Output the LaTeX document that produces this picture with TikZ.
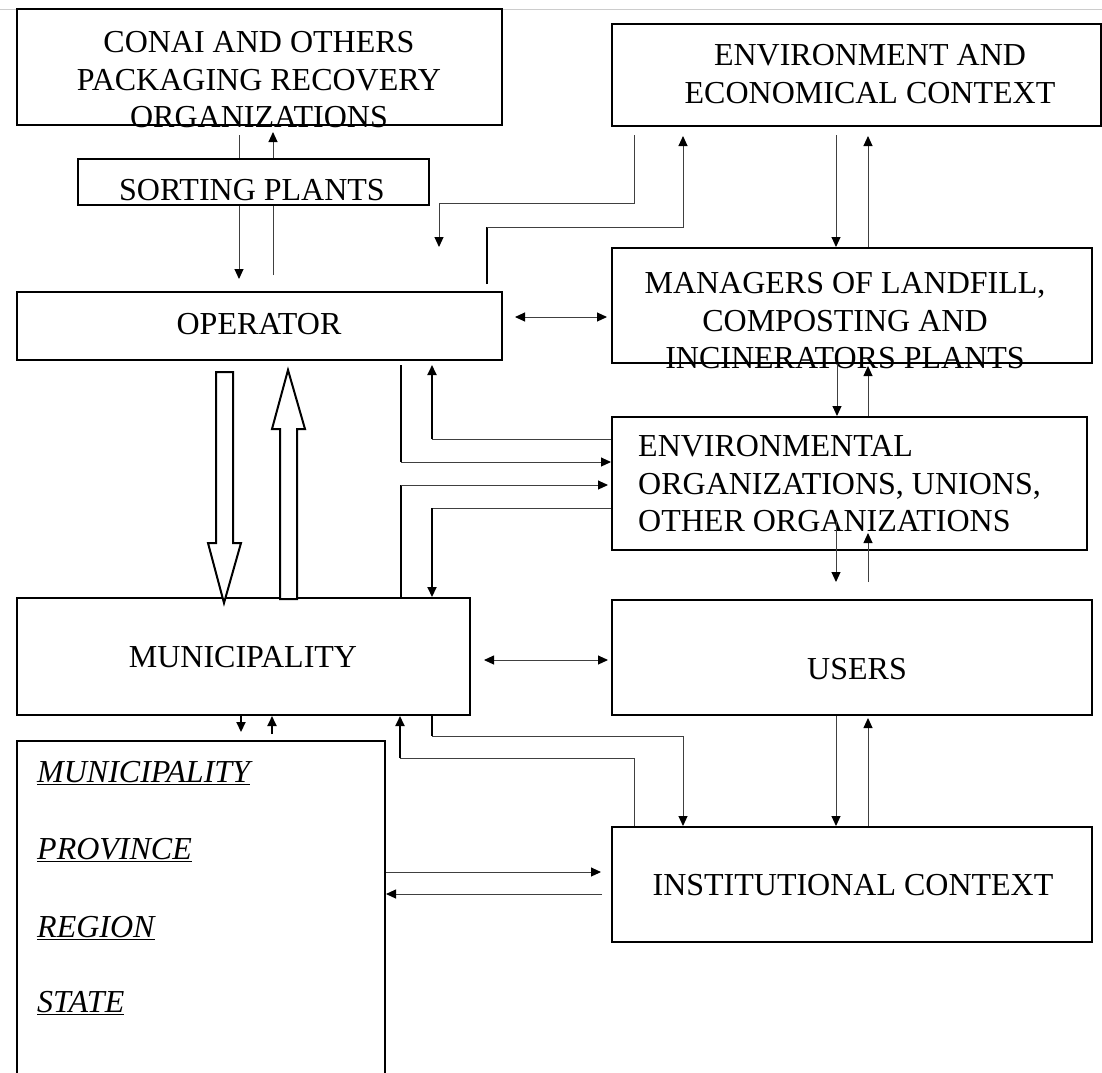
\documentclass[tikz,border=0pt]{standalone}
\usepackage{fontspec}
\setmainfont{Liberation Serif}
\usetikzlibrary{arrows.meta}
\begin{document}
\begin{tikzpicture}[x=1pt,y=-1pt,
  box/.style={draw=black,line width=2pt,fill=white,inner sep=0pt},
  txt/.style={font=\fontsize{32}{37.5}\selectfont,align=center,inner sep=0pt},
  lvl/.style={font=\fontsize{32}{37.5}\selectfont\itshape,inner sep=0pt,anchor=base west},
  thinline/.style={line width=1pt,draw=black!75},
  thickline/.style={line width=2pt,draw=black},
  tip/.style={-{Triangle[length=10pt,width=9pt,color=black]}},
  tips/.style={{Triangle[length=10pt,width=9pt,color=black]}-{Triangle[length=10pt,width=9pt,color=black]}},
  hollow/.style={draw=black,line width=2pt,fill=white,line join=miter}]
\useasboundingbox (0,0) rectangle (1102,1072);
\clip (0,0) rectangle (1102,1072);

% page rule along the top
\draw[gray!40,line width=1.5pt] (0,9.5) -- (1102,9.5);

% boxes
\node[box,minimum width=485pt,minimum height=116pt] (conai) at (259.5,67) {};
\node[box,minimum width=489pt,minimum height=102pt] (env) at (856.5,75) {};
\node[box,minimum width=485pt,minimum height=68pt] (oper) at (259.5,326) {};
\node[box,minimum width=480pt,minimum height=115pt] (man) at (852,305.5) {};
\node[box,minimum width=475pt,minimum height=133pt] (envorg) at (849.5,483.5) {};
\node[box,minimum width=453pt,minimum height=117pt] (mun) at (243.5,656.5) {};
\node[box,minimum width=480pt,minimum height=115pt] (users) at (852,657.5) {};
\node[box,minimum width=368pt,minimum height=350pt] (levels) at (201,916) {};
\node[box,minimum width=480pt,minimum height=115pt] (inst) at (852,884.5) {};

% box texts
\node[txt] (conaiT) at (259,80) {CONAI AND OTHERS\\PACKAGING RECOVERY\\ORGANIZATIONS};
\node[txt] (envT) at (870,74) {ENVIRONMENT AND\\ECONOMICAL CONTEXT};
\node[txt] (operT) at (259,324) {OPERATOR};
\node[txt] (manT) at (845,321) {MANAGERS OF LANDFILL,\\COMPOSTING AND\\INCINERATORS PLANTS};
\node[txt,align=left,anchor=west] (envorgT) at (638,484) {ENVIRONMENTAL\\ORGANIZATIONS, UNIONS,\\OTHER ORGANIZATIONS};
\node[txt] (munT) at (243,657) {MUNICIPALITY};
\node[txt] (usersT) at (857,669) {USERS};
\node[txt] (instT) at (853,885) {INSTITUTIONAL CONTEXT};
\node[lvl] (l1) at (37,782) {\underline{MUNICIPALITY}};
\node[lvl] (l2) at (37,859) {\underline{PROVINCE}};
\node[lvl] (l3) at (37,937) {\underline{REGION}};
\node[lvl] (l4) at (37,1012) {\underline{STATE}};

% CONAI <-> operator (behind the sorting plants box)
\draw[thinline,tip,shorten <=9pt,shorten >=12pt] (conai.south -| 239,0) -- (oper.north -| 239,0);
\draw[thinline,tip,shorten <=16pt,shorten >=6pt] (oper.north -| 273,0) -- (conai.south -| 273,0);

% environment context <-> operator
\coordinate (envdrop) at (439,247);
\draw[thinline,tip,shorten <=8pt] (env.south -| 634,0) -- (634,203) -- (439,203) -- (envdrop);
\draw[thickline,shorten <=7pt] (oper.north -| 487,0) -- (487,227);
\draw[thinline,tip,shorten >=9pt] (487,227) -- (683,227) -- (env.south -| 683,0);

% environment context <-> managers
\draw[thinline,tip,shorten <=8pt] (env.south -| 836,0) -- (man.north -| 836,0);
\draw[thinline,tip,shorten >=9pt] (man.north -| 868,0) -- (env.south -| 868,0);

% operator <-> managers
\draw[thinline,tips,shorten <=12pt,shorten >=4pt] (oper.east |- 0,317) -- (man.west |- 0,317);

% managers <-> environmental organizations
\draw[thinline,tip] (man.south -| 837,0) -- (envorg.north -| 837,0);
\draw[thinline,tip,shorten >=2pt] (envorg.north -| 868,0) -- (man.south -| 868,0);

% operator <-> environmental organizations
\draw[thickline,shorten <=4pt] (oper.south -| 401,0) -- (401,462);
\draw[thinline,tip] (401,462) -- (envorg.west |- 0,462);
\draw[thinline] (envorg.west |- 0,439) -- (432,439);
\draw[thickline,tip,shorten >=4pt] (432,439) -- (oper.south -| 432,0);

% municipality <-> environmental organizations
\draw[thickline] (mun.north -| 401,0) -- (401,485);
\draw[thinline,tip,shorten >=3pt] (401,485) -- (envorg.west |- 0,485);
\draw[thinline] (envorg.west |- 0,508) -- (432,508);
\draw[thickline,tip] (432,508) -- (mun.north -| 432,0);

% operator <-> municipality (hollow block arrows)
\path[hollow] (216,372) -- (233,372) -- (233,543) -- (241,543) -- (224,603)
  -- (208,543) -- (216,543) -- cycle;
\path[hollow] (280,599) -- (297,599) -- (297,429) -- (305,429) -- (288,370)
  -- (272,429) -- (280,429) -- cycle;

% environmental organizations <-> users
\draw[thinline,tip,shorten <=-30pt,shorten >=17pt] (envorg.south -| 836,0) -- (users.north -| 836,0);
\draw[thinline,tip,shorten <=17pt,shorten >=-18pt] (users.north -| 868,0) -- (envorg.south -| 868,0);

% municipality <-> users
\draw[thinline,tips,shorten <=13pt,shorten >=3pt] (mun.east |- 0,660) -- (users.west |- 0,660);

% municipality <-> levels of government
\draw[thickline,tip,shorten >=8pt] (mun.south -| 241,0) -- (levels.north -| 241,0);
\draw[thickline,tip,shorten <=6pt] (levels.north -| 272,0) -- (mun.south -| 272,0);

% municipality <-> institutional context
\draw[thinline] (inst.north -| 634,0) -- (634,758) -- (400,758);
\draw[thickline,tip] (400,758) -- (mun.south -| 400,0);
\draw[thickline] (mun.south -| 432,0) -- (432,736);
\draw[thinline,tip] (432,736) -- (683,736) -- (inst.north -| 683,0);

% users <-> institutional context
\draw[thinline,tip] (users.south -| 836,0) -- (inst.north -| 836,0);
\draw[thinline,tip,shorten >=2pt] (inst.north -| 868,0) -- (users.south -| 868,0);

% levels of government <-> institutional context
\draw[thinline,tip,shorten >=10pt] (levels.east |- 0,872) -- (inst.west |- 0,872);
\draw[thinline,tip,shorten <=9pt] (inst.west |- 0,894) -- (levels.east |- 0,894);

% sorting plants, set over the CONAI links
\node[box,minimum width=351pt,minimum height=46pt] (sort) at (253.5,182) {};
\node[txt] (sortT) at (252,190) {SORTING PLANTS};
\end{tikzpicture}
\end{document}
